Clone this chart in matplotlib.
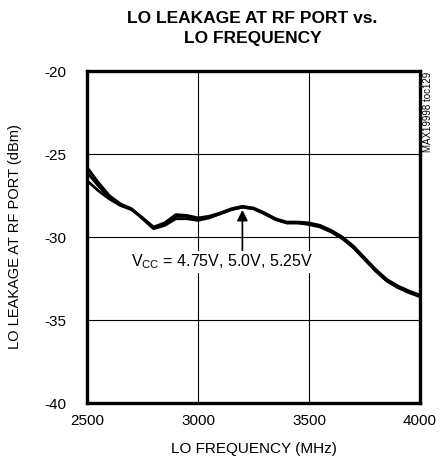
import matplotlib
matplotlib.use("Agg")
import matplotlib.pyplot as plt
from matplotlib import font_manager

# narrow font if there is one, else Liberation Sans
names = {f.name for f in font_manager.fontManager.ttflist}
narrow = "Liberation Sans Narrow" if "Liberation Sans Narrow" in names else "Liberation Sans"
plt.rcParams['font.family'] = [narrow, 'DejaVu Sans']
plt.rcParams['axes.unicode_minus'] = False

freq = [2500, 2550, 2600, 2650, 2700, 2750, 2800, 2850, 2900, 2950, 3000,
        3050, 3100, 3150, 3200, 3250, 3300, 3350, 3400, 3450, 3500,
        3550, 3600, 3650, 3700, 3750, 3800, 3850, 3900, 3950, 4000]

leak_475 = [-25.8, -26.7, -27.5, -28.0, -28.3, -28.9, -29.5, -29.3, -28.9, -28.9, -29.0,
            -28.85, -28.6, -28.35, -28.2, -28.3, -28.6, -28.95, -29.15, -29.15, -29.25,
            -29.4, -29.7, -30.1, -30.65, -31.35, -32.05, -32.65, -33.05, -33.35, -33.6]
leak_500 = [-26.1, -26.9, -27.6, -28.05, -28.3, -28.85, -29.45, -29.25, -28.75, -28.75, -28.9,
            -28.8, -28.6, -28.35, -28.2, -28.3, -28.6, -28.95, -29.15, -29.15, -29.2,
            -29.35, -29.65, -30.05, -30.6, -31.3, -32.0, -32.6, -33.0, -33.3, -33.55]
leak_525 = [-26.6, -27.2, -27.7, -28.1, -28.35, -28.85, -29.4, -29.15, -28.65, -28.7, -28.85,
            -28.75, -28.55, -28.3, -28.15, -28.25, -28.55, -28.9, -29.1, -29.1, -29.15,
            -29.3, -29.6, -30.0, -30.55, -31.25, -31.95, -32.55, -32.95, -33.25, -33.5]

fig = plt.figure(figsize=(4.47, 4.61), dpi=100)
ax = fig.add_axes([87 / 447, 1 - 403 / 461, 333 / 447, 332 / 461])

for y in (leak_475, leak_500, leak_525):
    ax.plot(freq, y, color='black', lw=2.0, zorder=3)

ax.set_xlim(2500, 4000)
ax.set_ylim(-40, -20)
ax.set_xticks([2500, 3000, 3500, 4000])
ax.set_yticks([-40, -35, -30, -25, -20])
ax.grid(True, color='black', lw=0.8)
ax.tick_params(length=0, labelsize=11)
ax.tick_params(axis='y', pad=15)
ax.tick_params(axis='x', pad=8)
for s in ax.spines.values():
    s.set_linewidth(2.4)

ax.set_xlabel("LO FREQUENCY (MHz)", fontsize=11, labelpad=10)
ax.set_ylabel("LO LEAKAGE AT RF PORT (dBm)", fontsize=10.5, labelpad=16)

fig.text(0.565, 0.976, "LO LEAKAGE AT RF PORT vs.\nLO FREQUENCY", ha='center', va='top',
         fontsize=12.5, fontweight='bold', linespacing=1.4)

ax.annotate("", xy=(3200, -28.2), xytext=(3200, -31.0),
            arrowprops=dict(arrowstyle='-|>', color='black', lw=1.2, mutation_scale=16))
ax.text(3110, -31.5, "V$_{\\mathregular{CC}}$ = 4.75V, 5.0V, 5.25V", ha='center', va='center',
        fontsize=11.5, zorder=4, bbox=dict(facecolor='white', edgecolor='none', pad=1))

fig.text(428 / 447, 1 - 72 / 461, "MAX19998 toc129", rotation=90, ha='center', va='top',
         fontsize=7)

fig.savefig("out.png", dpi=100)
